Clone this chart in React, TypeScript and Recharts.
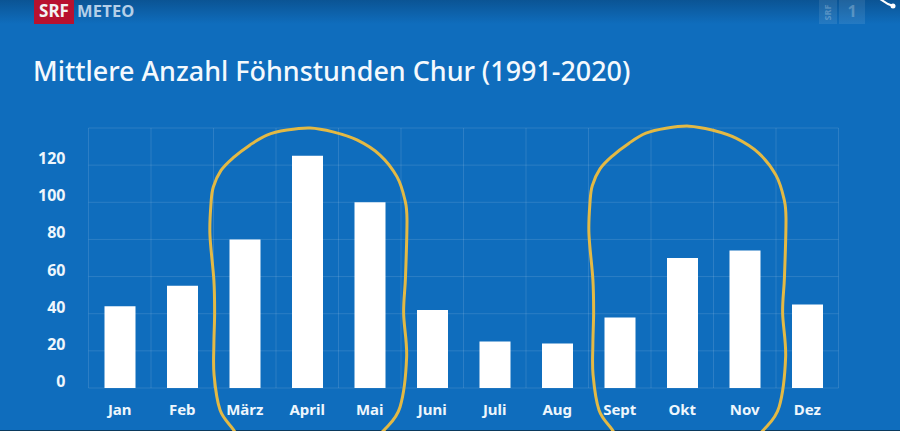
import React from "react";
import { BarChart, Bar, XAxis, YAxis, CartesianGrid, ReferenceArea } from "recharts";

const months = ["Jan", "Feb", "März", "April", "Mai", "Juni", "Juli", "Aug", "Sept", "Okt", "Nov", "Dez"];
const hours = [44, 55, 80, 125, 100, 42, 25, 24, 38, 70, 74, 45];
const yTicks = [0, 20, 40, 60, 80, 100, 120, 140];
const titleText = "Mittlere Anzahl Föhnstunden Chur (1991-2020)";

const data = months.map((month, i) => ({ month, hours: hours[i] }));

const FONT = "'Noto Sans', 'Open Sans', sans-serif";
const BG = "#0f6dbd";
const W = 900;
const H = 431;

// Hand-drawn outline as fractions of the highlighted box (first to last month band, axis bottom to top).
const loopShape: [number, number][] = [
  [0.141, 1.2], [0.104, 1.158], [0.035, 1.085], [0.003, 0.95], [0.002, 0.83], [0.006, 0.712], [0.002, 0.585],
  [-0.019, 0.41], [-0.013, 0.288], [-0.001, 0.227], [0.04, 0.163], [0.104, 0.115], [0.195, 0.065], [0.285, 0.027], [0.392, 0.008], [0.515, 0],
  [0.637, 0.015], [0.765, 0.046], [0.888, 0.104], [0.979, 0.188], [1.021, 0.277], [1.032, 0.354], [1.024, 0.573], [1.014, 0.712],
  [1.03, 0.881], [0.995, 1.073], [0.915, 1.158], [0.861, 1.188],
];

function smoothPath(pts: [number, number][]) {
  let d = `M${pts[0][0]},${pts[0][1]}`;
  for (let i = 0; i < pts.length - 1; i++) {
    const p0 = pts[Math.max(0, i - 1)];
    const p1 = pts[i];
    const p2 = pts[i + 1];
    const p3 = pts[Math.min(pts.length - 1, i + 2)];
    d += ` C${p1[0] + (p2[0] - p0[0]) / 6},${p1[1] + (p2[1] - p0[1]) / 6} ${p2[0] - (p3[0] - p1[0]) / 6},${p2[1] - (p3[1] - p1[1]) / 6} ${p2[0]},${p2[1]}`;
  }
  return d;
}

function Loop(props: any) {
  const { x, y, width, height, shift = 0 } = props;
  const pts = loopShape.map(([u, v]) => [x + shift + u * width, y + v * height]) as [number, number][];
  return <path d={smoothPath(pts)} fill="none" stroke="#e3b944" strokeWidth={3} strokeLinecap="round" />;
}

function YTick(props: any) {
  const { x, y, payload } = props;
  if (payload.value === 140) return <g />;
  return (
    <text x={x - 15} y={y - 1} textAnchor="end" fill="#eef6fc" fontFamily={FONT} fontWeight={700} fontSize={16}>
      {payload.value}
    </text>
  );
}

function XTick(props: any) {
  const { x, y, payload } = props;
  return (
    <text x={x} y={y + 19} textAnchor="middle" fill="#eef6fc" fontFamily={FONT} fontWeight={700} fontSize={15}>
      {payload.value}
    </text>
  );
}

export default function App() {
  return (
    <div style={{ position: "absolute", left: 0, top: 0, width: W, height: H, overflow: "hidden", background: BG, fontFamily: FONT }}>
      <div style={{ position: "absolute", left: 0, top: 0, width: W, height: 24, background: "linear-gradient(#0b5494, #0f6dbd)" }} />
      <div style={{ position: "absolute", left: 34, top: 0, width: 40, height: 24, background: "#b8122f", color: "#f3f3f3", fontWeight: 700, fontSize: 17, lineHeight: "21px", textAlign: "center" }}>SRF</div>
      <div style={{ position: "absolute", left: 77, top: 0, color: "#b4cfe8", fontWeight: 700, fontSize: 16.5, lineHeight: "21px", letterSpacing: 0.2 }}>METEO</div>
      <div style={{ position: "absolute", left: 819, top: 0, width: 18, height: 24, background: "rgba(255,255,255,0.09)", color: "rgba(255,255,255,0.25)", fontSize: 9, fontWeight: 700, display: "flex", alignItems: "center", justifyContent: "center" }}>
        <span style={{ transform: "rotate(-90deg)" }}>SRF</span>
      </div>
      <div style={{ position: "absolute", left: 839, top: 0, width: 26, height: 24, background: "rgba(255,255,255,0.09)", color: "rgba(255,255,255,0.25)", fontSize: 16, fontWeight: 700, textAlign: "center", lineHeight: "22px" }}>1</div>
      <div style={{ position: "absolute", left: 33, top: 53, color: "#f4f9fd", fontSize: 26.9, lineHeight: "36px", fontWeight: 500, whiteSpace: "nowrap" }}>{titleText}</div>
      <div style={{ position: "absolute", left: 0, top: 430, width: W, height: 1, background: "#0a3a5e" }} />
      <div style={{ position: "absolute", left: 0, top: 0 }}>
        <BarChart width={W} height={H} data={data} margin={{ top: 128, right: 61.5, bottom: 0, left: 28.5 }} barCategoryGap={0} style={{ overflow: "visible" }}>
          <CartesianGrid
            stroke="rgba(255,255,255,0.12)"
            strokeWidth={1}
            verticalCoordinatesGenerator={({ offset }: any) =>
              Array.from({ length: months.length + 1 }, (_, i) => offset.left + (i * offset.width) / months.length)
            }
          />
          <XAxis dataKey="month" height={43} axisLine={false} tickLine={false} tick={<XTick />} interval={0} />
          <YAxis width={60} domain={[0, 140]} ticks={yTicks} axisLine={false} tickLine={false} tick={<YTick />} interval={0} />
          <Bar dataKey="hours" fill="#ffffff" barSize={31} isAnimationActive={false} />
          <ReferenceArea x1="März" x2="Mai" y1={0} y2={140} ifOverflow="visible" shape={<Loop />} />
          <ReferenceArea x1="Sept" x2="Nov" y1={0} y2={141} ifOverflow="visible" shape={<Loop shift={4} />} />
        </BarChart>
      </div>
      <svg width={30} height={24} style={{ position: "absolute", left: 870, top: 0 }}>
        <path d="M10,-1 L18,4 L23,6" stroke="#fff" strokeWidth={2} fill="none" />
        <circle cx={23} cy={6} r={2.5} fill="#fff" />
      </svg>
    </div>
  );
}
